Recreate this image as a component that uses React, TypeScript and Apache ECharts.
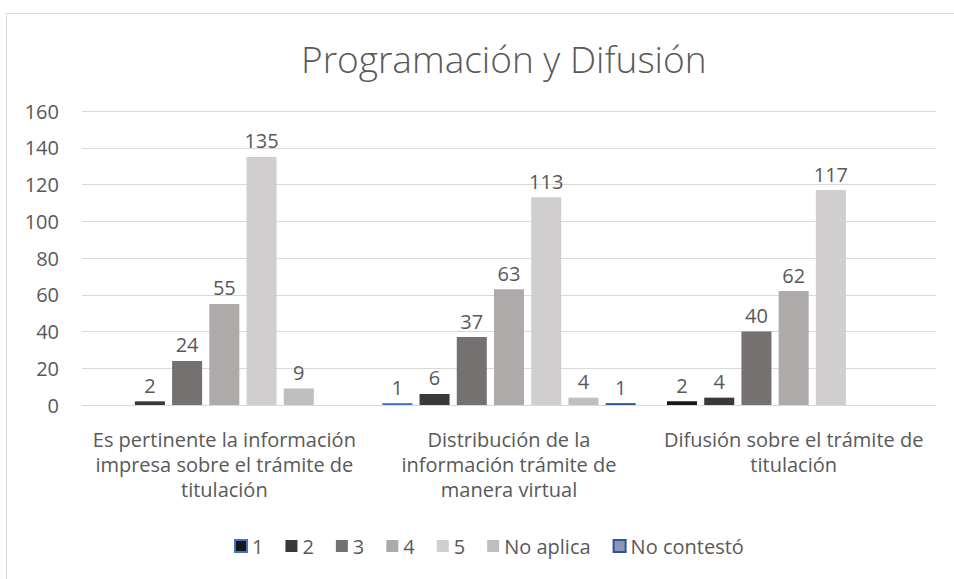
import React, { useEffect, useRef } from "react";
import * as echarts from "echarts";

const categories = [
  "Es pertinente la información\nimpresa sobre el trámite de\ntitulación",
  "Distribución de la\ninformación trámite de\nmanera virtual",
  "Difusión sobre el trámite de\ntitulación",
];
const seriesNames = ["1", "2", "3", "4", "5", "No aplica", "No contestó"];
const s1: (number | null)[] = [null, 1, 2];
const s2: (number | null)[] = [2, 6, 4];
const s3: (number | null)[] = [24, 37, 40];
const s4: (number | null)[] = [55, 63, 62];
const s5: (number | null)[] = [135, 113, 117];
const sNoAplica: (number | null)[] = [9, 4, null];
const sNoContesto: (number | null)[] = [null, 1, null];
const yTicks = { min: 0, max: 160, interval: 20 };

const FONT = "'Open Sans', Lato, sans-serif";
const TXT = "#595959";
const FS = 20;

export default function App() {
  const ref = useRef<HTMLDivElement>(null);
  useEffect(() => {
    if (!ref.current) return;
    const chart = echarts.init(ref.current, undefined, { renderer: "svg" });
    const values = [s1, s2, s3, s4, s5, sNoAplica, sNoContesto];
    const styles = [
      { color: "#161616", borderColor: "#4472C4", borderWidth: 1.5 },
      { color: "#3B3838" },
      { color: "#767171" },
      { color: "#AEAAAA" },
      { color: "#D0CECE" },
      { color: "#BFBFBF" },
      { color: "#8C96B4", borderColor: "#2F5597", borderWidth: 1.5 },
    ];
    const series = seriesNames.map((name, i) => ({
      name,
      type: "bar",
      barGap: "24%",
      barCategoryGap: "11%",
      itemStyle: styles[i],
      data: values[i].map((v, j) => {
        if (v === null) return "-";
        if (i === 0 && j === 2) {
          return { value: v, itemStyle: { color: "#161616", borderColor: "#161616" } };
        }
        return v;
      }),
      label: {
        show: true,
        position: "top",
        distance: 6,
        color: TXT,
        fontSize: FS,
        fontFamily: FONT,
      },
    }));
    chart.setOption({
      animation: false,
      backgroundColor: "#ffffff",
      title: {
        text: "Programación y Difusión",
        left: 296,
        top: 35,
        textStyle: { color: TXT, fontSize: 37, fontWeight: 300, fontFamily: FONT },
      },
      graphic: [
        {
          type: "rect",
          left: 4,
          top: 11,
          shape: { width: 1000, height: 1000 },
          style: { fill: "none", stroke: "#D9D9D9", lineWidth: 1 },
          silent: true,
          z: -10,
        },
      ],
      legend: {
        bottom: 18,
        left: 229,
        itemWidth: 12,
        itemHeight: 12,
        itemGap: 22,
        icon: "rect",
        textStyle: { color: TXT, fontSize: FS, fontFamily: FONT },
        data: seriesNames,
      },
      grid: { left: 82, right: 18, top: 111, bottom: 174, containLabel: false },
      xAxis: {
        type: "category",
        data: categories,
        axisLine: { lineStyle: { color: "#D9D9D9" } },
        axisTick: { show: false },
        axisLabel: {
          color: TXT,
          fontSize: FS,
          fontFamily: FONT,
          lineHeight: 25,
          margin: 22,
          interval: 0,
        },
      },
      yAxis: {
        type: "value",
        min: yTicks.min,
        max: yTicks.max,
        interval: yTicks.interval,
        axisLine: { show: false },
        axisTick: { show: false },
        splitLine: { lineStyle: { color: "#D9D9D9" } },
        axisLabel: { color: TXT, fontSize: FS, fontFamily: FONT, margin: 23 },
      },
      series,
    });
    return () => chart.dispose();
  }, []);
  return (
    <div
      ref={ref}
      style={{ position: "fixed", left: 0, top: 0, width: 954, height: 579, background: "#fff" }}
    />
  );
}
